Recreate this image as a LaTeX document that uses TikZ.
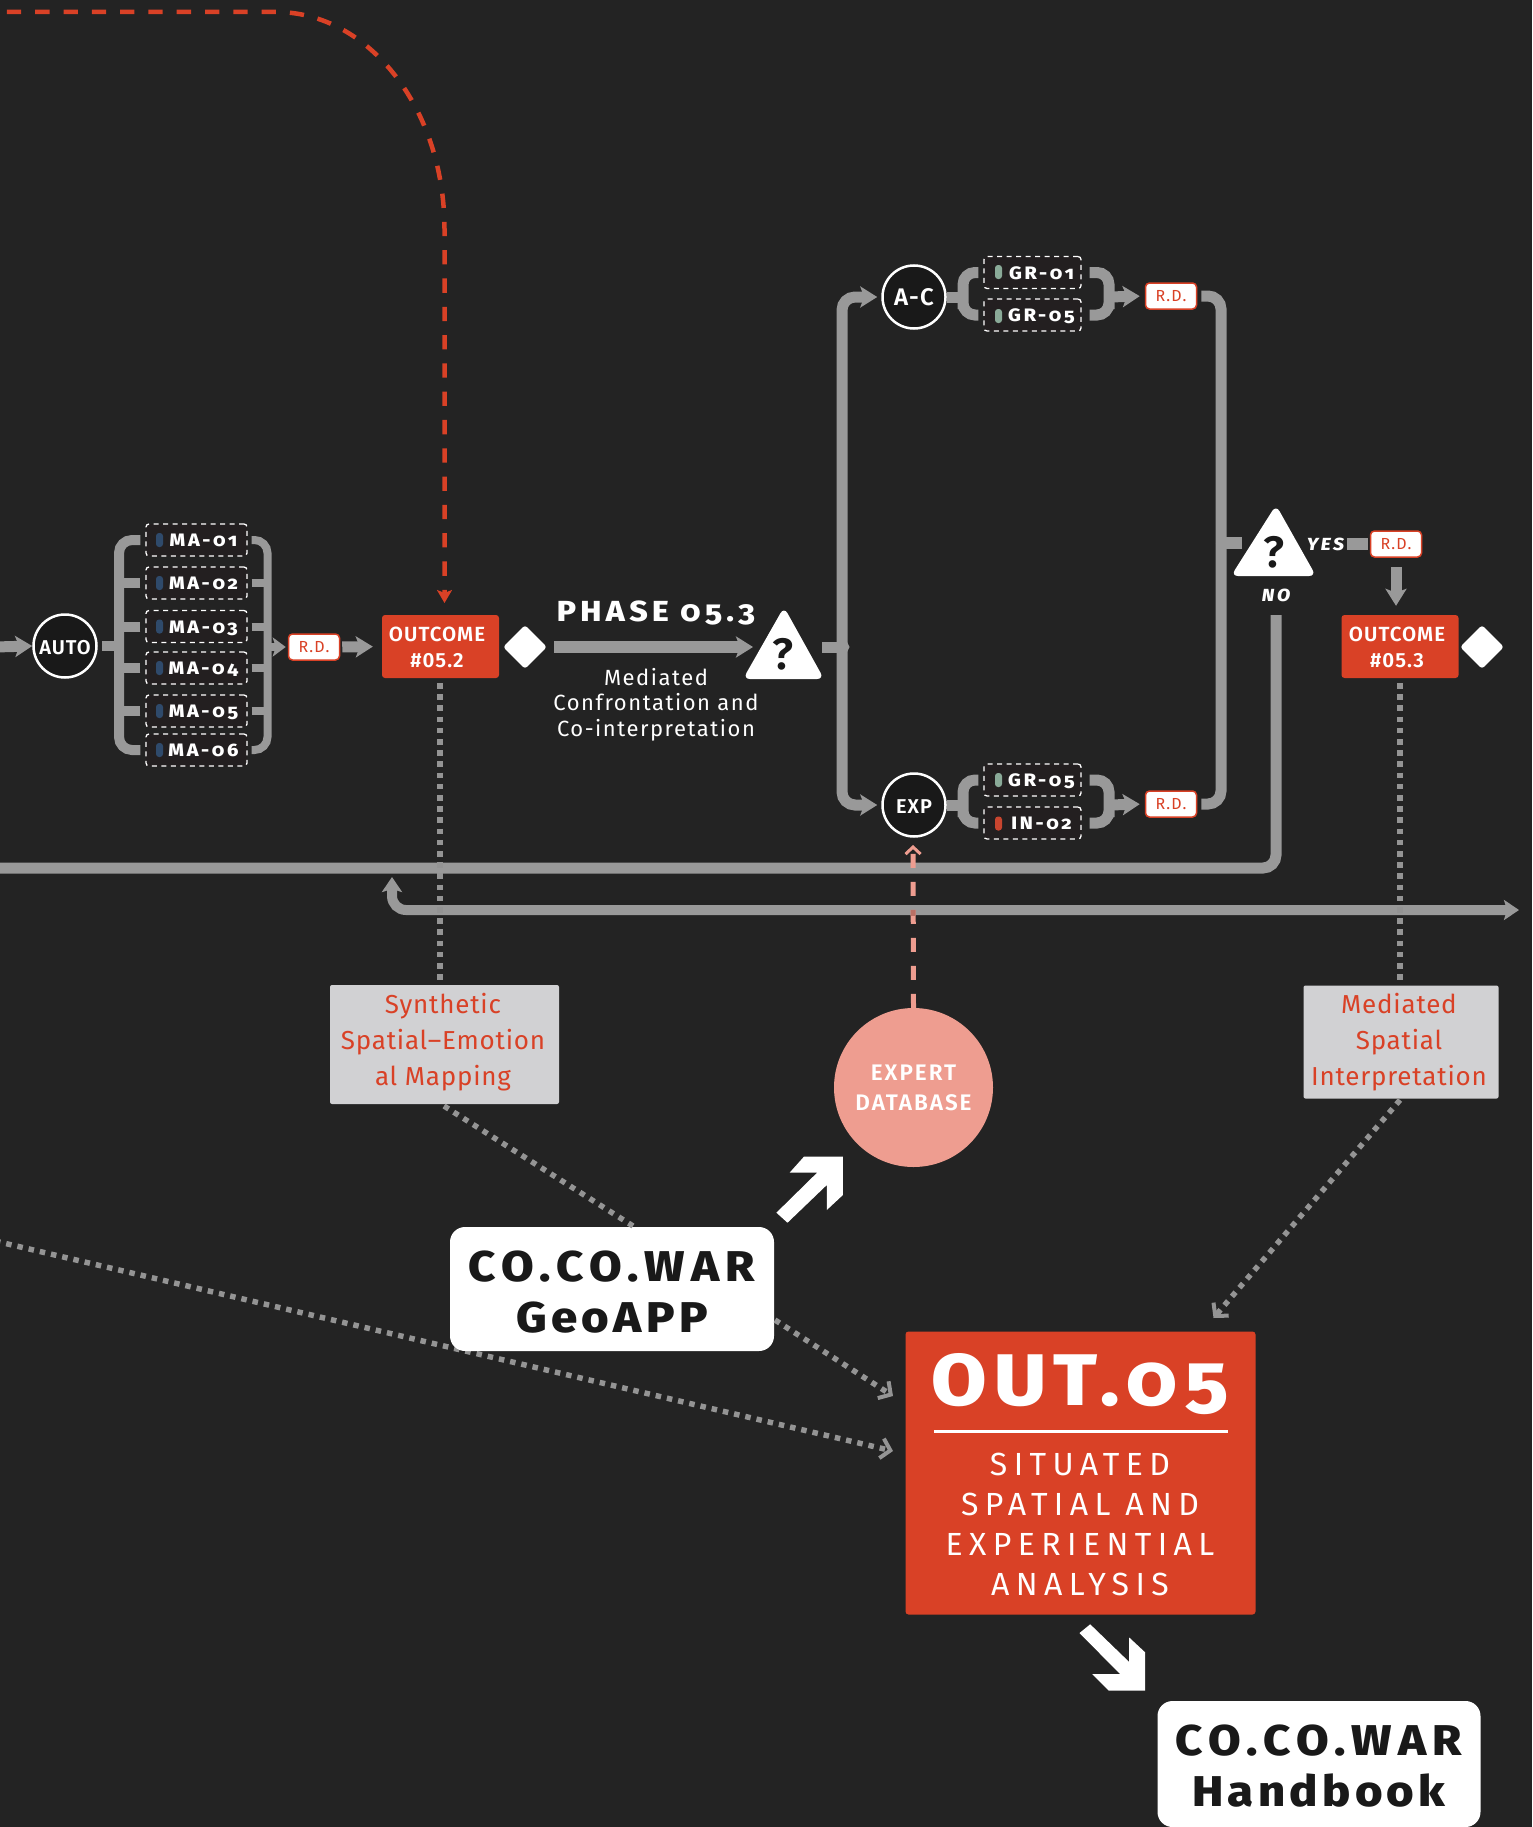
\documentclass[tikz,border=0pt]{standalone}
\usepackage{fontspec}
\usetikzlibrary{arrows.meta}
\setmainfont{Fira Sans}
\newfontfamily\heavyfont[Numbers=OldStyle,LetterSpace=10,FakeStretch=1.1]{Fira Sans ExtraBold}
\newfontfamily\wideheavy[Numbers=OldStyle,LetterSpace=15,FakeStretch=1.1]{Fira Sans ExtraBold}
\newfontfamily\heavyitalic[LetterSpace=15,FakeStretch=1.1]{Fira Sans ExtraBold Italic}
\newfontfamily\labelfont[LetterSpace=5]{Fira Sans SemiBold}
\newfontfamily\widelabel[LetterSpace=9]{Fira Sans SemiBold}
\newfontfamily\spacedfont[LetterSpace=20]{Fira Sans}
\newfontfamily\wordfont[LetterSpace=7]{Fira Sans}
\newfontfamily\notefont[LetterSpace=3]{Fira Sans}
\definecolor{pagebg}{HTML}{232323}
\definecolor{flowgrey}{HTML}{999999}
\definecolor{dotgrey}{HTML}{949494}
\definecolor{outred}{HTML}{D94126}
\definecolor{salmon}{HTML}{EE9D90}
\definecolor{salmondark}{HTML}{B97065}
\definecolor{notegrey}{HTML}{D1D1D3}
\definecolor{tagbg}{HTML}{231F20}
\definecolor{circlebg}{HTML}{191919}
\definecolor{mablue}{HTML}{2F4A6B}
\definecolor{grgreen}{HTML}{8AAA98}
\definecolor{inred}{HTML}{C9452F}
\tikzset{
  flowline/.style={draw=flowgrey, line width=11pt},
  flowarrow/.style={flowline, -{Stealth[length=17pt,width=21pt,inset=4pt]}},
  tagbox/.style={draw=white, fill=tagbg, line width=1.3pt, dash pattern=on 5pt off 4.5pt,
    rounded corners=3pt, minimum width=101pt, minimum height=32pt, inner sep=0pt, text=white,
    text height=13pt, text depth=0pt, font=\wideheavy\fontsize{18}{20}\selectfont},
  pillmark/.style={rounded corners=3pt, minimum width=7pt, minimum height=14pt, inner sep=0pt},
  stepcircle/.style={circle, draw=white, fill=circlebg, line width=2.5pt, minimum size=63pt,
    inner sep=0pt, text=white, text height=16.5pt, text depth=0pt, font=\labelfont\fontsize{20}{22}\selectfont},
  rdbox/.style={draw=outred, fill=white, line width=1.5pt, rounded corners=4pt, minimum width=51pt,
    minimum height=26pt, inner sep=0pt, text=outred, font=\wordfont\fontsize{16}{18}\selectfont},
  outcomebox/.style={fill=outred, rounded corners=3pt, minimum width=117pt, minimum height=63pt, inner sep=0pt},
  outcometext/.style={text=white, inner sep=0pt, align=center, font=\labelfont\fontsize{20.5}{26}\selectfont},
  whitediamond/.style={fill=white, rounded corners=3pt, minimum size=31pt, inner sep=0pt, rotate=45},
  notebox/.style={fill=notegrey, rounded corners=2pt, inner sep=0pt},
  notetext/.style={text=outred, inner sep=0pt, align=center, font=\notefont\fontsize{26}{36}\selectfont},
  whitebox/.style={fill=white, rounded corners=15pt, inner sep=0pt},
  whitetext/.style={text=circlebg, inner sep=0pt, align=center, font=\heavyfont\fontsize{43}{51}\selectfont},
  querymark/.style={text=circlebg, inner sep=0pt, font=\labelfont\fontsize{44}{46}\selectfont},
  dotline/.style={draw=dotgrey, line width=5.5pt, dash pattern=on 5.5pt off 5.7pt},
  dotarrow/.style={draw=dotgrey, line width=5.5pt, dash pattern=on 5.5pt off 6pt,
    -{Straight Barb[length=9pt,width=20pt,line width=4pt]}},
  reddash/.style={draw=outred, line width=4.5pt, dash pattern=on 14.3pt off 14pt, dash phase=16.4pt,
    -{Stealth[length=13pt,width=15pt,inset=3pt]}},
  salmondash/.style={line width=5pt, dash pattern=on 14pt off 14pt}
}
\begin{document}
\begin{tikzpicture}[x=1pt, y=-1pt]
\useasboundingbox (0,0) rectangle (1532,1827);
\clip (0,0) rectangle (1532,1827);
\fill[pagebg] (0,0) rectangle (1532,1827);
% Steps of the automatic branch
\node[stepcircle] (auto) at (65,646) {AUTO};
\foreach \n/\y in {1/540, 2/583, 3/626.5, 4/668, 5/711, 6/750} {
  \node[tagbox] (ma\n) at (196.5,\y) {\hspace{14pt}MA-0\n};
  \node[pillmark, fill=mablue] (pma\n) at (159.5,\y) {};
}
\node[rdbox] (rdb) at (314,647) {R.D.};
\node[outcomebox] (outb) at (440.5,646.5) {};
\node[outcometext] (outbtext) at (437,647.5) {OUTCOME\\\#05.2};
\node[whitediamond] (dib) at (525,647) {};
% Bracket in front of and behind the MA boxes
\coordinate (leftin) at (-5,647);
\coordinate (brl) at (119,646);
\coordinate (brr) at (267.5,647);
\draw[flowarrow] (leftin) -- (auto.west);
\draw[flowline, line width=10pt, shorten <=4pt] (auto.east) -- (brl);
\draw[flowline, line width=10pt, rounded corners=13pt, shorten <=5pt, shorten >=5pt] (ma1.west) -| (brl) |- (ma6.west);
\draw[flowline, line width=8pt, rounded corners=13pt, shorten <=4pt, shorten >=4pt] (ma1.east) -| (brr) |- (ma6.east);
\foreach \n in {2,3,4,5} {
  \draw[flowline, line width=10pt, shorten <=5pt] (ma\n.west) -- (ma\n.west -| brl);
  \draw[flowline, line width=8pt, shorten <=4pt] (ma\n.east) -- (ma\n.east -| brr);
}
\draw[flowline, line width=8pt, -{Stealth[length=13pt,width=19pt,inset=3pt]}, shorten >=2pt] (brr) -- (rdb.west);
\draw[flowarrow, shorten <=2pt, shorten >=9pt] (rdb.east) -- (outb.west);
% Phase label with its arrow and the first question
\node[text=white, inner sep=0pt, font=\wideheavy\fontsize{29}{32}\selectfont] (phase) at (656,612.5) {PHASE 05.3};
\node[text=white, inner sep=0pt, align=center, font=\wordfont\fontsize{22}{25.5}\selectfont] (phasenote) at (656,704.5) {Mediated\\Confrontation and\\Co-interpretation};
\fill[white, rounded corners=7pt] (743,679) -- (784,607) -- (824,679) -- cycle;
\node[querymark] (qa) at (783,654) {?};
\coordinate (qain) at (753,647);
\draw[flowarrow, line width=12pt, shorten <=8pt] (dib.center) ++(21,0) -- (qain);
% Split to the two groups
\coordinate (splitin) at (822,647);
\coordinate (split) at (842,647);
\draw[flowline] (splitin) -- (split);
\node[stepcircle, font=\labelfont\fontsize{24}{26}\selectfont] (ac) at (914,297) {A-C};
\node[stepcircle] (expc) at (914,805) {EXP};
\draw[flowarrow, rounded corners=13pt, shorten >=4pt] (split) |- (ac.west);
\draw[flowarrow, rounded corners=13pt, shorten >=4pt] (split) |- (expc.west);
\fill[flowgrey] (846,640) -- (849.5,647) -- (846,654) -- cycle;
% Upper group
\node[tagbox, minimum width=97pt] (gra) at (1032.5,272.5) {\hspace{18pt}GR-01};
\node[tagbox, minimum width=97pt] (grb) at (1032.5,315) {\hspace{18pt}GR-05};
\node[pillmark, fill=grgreen] (pgra) at (998.5,272) {};
\node[pillmark, fill=grgreen] (pgrb) at (998.5,316) {};
\node[rdbox] (rdc) at (1171,296) {R.D.};
\coordinate (brac) at (963,297);
\coordinate (brad) at (1109,297);
\draw[flowline] (ac.east) -- (brac);
\draw[flowline, rounded corners=12pt, shorten <=5pt, shorten >=5pt] (gra.west) -| (brac) |- (grb.west);
\draw[flowline, rounded corners=12pt, shorten <=8pt, shorten >=8pt] (gra.east) -| (brad) |- (grb.east);
\draw[flowarrow, shorten >=5pt] (brad) -- (rdc.west);
% Lower group
\node[tagbox, minimum width=97pt] (grc) at (1032.5,780) {\hspace{18pt}GR-05};
\node[tagbox, minimum width=97pt] (ind) at (1032.5,823) {\hspace{18pt}IN-02};
\node[pillmark, fill=grgreen] (pgrc) at (998.5,780) {};
\node[pillmark, fill=inred] (pind) at (998.5,823.5) {};
\node[rdbox] (rdd) at (1171,804) {R.D.};
\coordinate (brec) at (963,805);
\coordinate (bred) at (1109,805);
\draw[flowline] (expc.east) -- (brec);
\draw[flowline, rounded corners=12pt, shorten <=5pt, shorten >=5pt] (grc.west) -| (brec) |- (ind.west);
\draw[flowline, rounded corners=12pt, shorten <=8pt, shorten >=8pt] (grc.east) -| (bred) |- (ind.east);
\draw[flowarrow, shorten >=5pt] (bred) -- (rdd.west);
% Groups join and go to the second question
\coordinate (join) at (1221,543);
\coordinate (qbin) at (1242,543);
\draw[flowline, rounded corners=13pt, shorten <=4pt] (rdc.east) -| (join);
\draw[flowline, rounded corners=13pt, shorten <=4pt] (rdd.east) -| (join);
\draw[flowline, line width=12pt] (join) -- (qbin);
\fill[white, rounded corners=7pt] (1231,576) -- (1276,505) -- (1316,576) -- cycle;
\node[querymark] (qb) at (1274,552) {?};
\node[text=white, inner sep=0pt, font=\heavyitalic\fontsize{17.5}{19}\selectfont] (yes) at (1325.5,544) {YES};
\node[text=white, inner sep=0pt, font=\heavyitalic\fontsize{17.5}{19}\selectfont] (no) at (1276,595) {NO};
\node[rdbox] (rde) at (1396,544) {R.D.};
\node[outcomebox] (outc) at (1400,646.5) {};
\node[outcometext] (outctext) at (1397,647.5) {OUTCOME\\\#05.3};
\node[whitediamond] (dic) at (1482,647) {};
\coordinate (yesout) at (1347,544);
\draw[flowline, line width=12pt, shorten >=2pt] (yesout) -- (rde.west);
\draw[flowarrow, shorten <=9pt, shorten >=9pt] (rde.south) -- (rde.south |- outc.north);
% Long return lines
\coordinate (noend) at (1276,615);
\coordinate (backleft) at (-5,868);
\coordinate (backup) at (392,877);
\coordinate (backright) at (1519,910);
\draw[flowline, rounded corners=13pt] (noend) |- (backleft);
\draw[flowline, line width=10pt, rounded corners=14pt, {Stealth[length=15pt,width=20pt,inset=3pt]}-{Stealth[length=15pt,width=20pt,inset=3pt]}] (backup) |- (backright);
% Red dashed line from the top
\coordinate (topleft) at (-5,12);
\coordinate (redtip) at (444.5,603);
\draw[reddash] (topleft) -- (276,12) .. controls (369,12) and (444.5,109) .. (444.5,229) -- (redtip);
% Dotted links that pass behind the boxes
\coordinate (outa) at (893,1396);
\coordinate (outd) at (893,1451);
\coordinate (oute) at (1213.5,1318);
\coordinate (farleft) at (-5,1241);
\coordinate (notedot) at (1400,985);
\coordinate (outdot) at (1400,683);
\coordinate (bdot) at (440,683);
\coordinate (adot) at (444,1106);
\coordinate (gdot) at (633,1226);
\coordinate (geodot) at (775,1320);
\coordinate (ndot) at (1400,1100);
\draw[dotarrow] (farleft) -- (outd);
% Notes and the boxes below
\node[notebox, minimum width=229pt, minimum height=119pt] (notea) at (444.5,1044.5) {};
\node[notetext] (noteatext) at (443,1042.5) {Synthetic\\Spatial–Emotion\\al Mapping};
\node[notebox, minimum width=195pt, minimum height=113pt] (noteb) at (1401,1042) {};
\node[notetext] (notebtext) at (1399,1042.5) {Mediated\\Spatial\\Interpretation};
\node[circle, fill=salmon, minimum size=159pt, inner sep=0pt, text=white, align=center, font=\widelabel\fontsize{22.5}{30}\selectfont] (expert) at (913.5,1087.5) {EXPERT\\DATABASE};
\node[whitebox, minimum width=324pt, minimum height=124pt] (geo) at (612,1289) {};
\node[whitetext] (geotext) at (612,1292.5) {{\wideheavy CO.CO.WAR}\\GeoAPP};
\node[fill=outred, rounded corners=3pt, minimum width=350pt, minimum height=283pt, inner sep=0pt] (outf) at (1080.5,1473) {};
\node[text=white, inner sep=0pt, font=\heavyfont\fontsize{73}{78}\selectfont] (outtitle) at (1080,1384) {OUT.05};
\node[text=white, inner sep=0pt, align=center, font=\spacedfont\fontsize{32}{40}\selectfont] (outtext) at (1080,1524) {SITUATED\\SPATIAL AND\\EXPERIENTIAL\\ANALYSIS};
\coordinate (rulel) at (934,1431);
\coordinate (ruler) at (1228,1431);
\draw[white, line width=3pt] (rulel) -- (ruler);
\node[whitebox, minimum width=323pt, minimum height=126pt] (book) at (1319,1764) {};
\node[whitetext] (booktext) at (1319,1766) {{\wideheavy CO.CO.WAR}\\Handbook};
% Dotted links in front
\draw[dotline] (bdot) -- (bdot |- notea.north);
\draw[dotline] (outdot) -- (notedot);
\draw[dotarrow, arrows=-] (adot) -- (gdot);
\draw[dotarrow] (geodot) -- (outa);
\draw[dotarrow] (ndot) -- (oute);
% Salmon dashes up to the EXP circle
\coordinate (dashtop) at (913,845);
\draw[salmon, salmondash, -{Straight Barb[length=7pt,width=15pt,line width=3pt]}] (expert.north) -- (dashtop);
\begin{scope}
\clip (880,904.5) rectangle (950,915.5);
\draw[salmondark, salmondash] (expert.north) -- (dashtop);
\end{scope}
% White arrows between the boxes
\fill[white] (776.4,1212.7) -- (817.1,1172.7) -- (789.6,1172.7) -- (803.9,1156.7) -- (842.9,1156.7) -- (842.9,1195) -- (826.8,1210) -- (826.8,1185) -- (787.5,1222.7) -- cycle;
\fill[white] (1079.5,1633) -- (1090.2,1624.3) -- (1129.2,1662) -- (1129.2,1637.5) -- (1145,1652.2) -- (1145,1690.5) -- (1108.6,1690.5) -- (1092.3,1674.2) -- (1120.2,1674.2) -- cycle;
\end{tikzpicture}
\end{document}
